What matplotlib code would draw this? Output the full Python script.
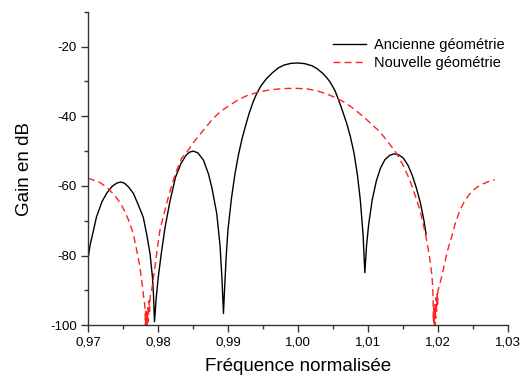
import matplotlib
matplotlib.use("Agg")
import matplotlib.pyplot as plt
from matplotlib.ticker import MultipleLocator, FuncFormatter

plt.rcParams["font.family"] = ["Liberation Sans", "DejaVu Sans"]

# Ancienne géométrie
f_old = [0.9700, 0.9703, 0.9707, 0.9712, 0.9720, 0.9727, 0.9735, 0.9742, 0.9747,
         0.9752, 0.9758, 0.9765, 0.9772, 0.9779, 0.9784, 0.97886, 0.9792, 0.97935,
         0.9795, 0.97975, 0.98005, 0.9805, 0.9810, 0.9817, 0.9825, 0.9833, 0.9840,
         0.9845, 0.98505, 0.9857, 0.9865, 0.9872, 0.9877, 0.9884, 0.98886, 0.98915,
         0.98935, 0.98955, 0.98975, 0.9900, 0.9905, 0.9910, 0.9915, 0.9920, 0.9925,
         0.9930, 0.9936, 0.9941, 0.9947, 0.9955, 0.9963, 0.9972, 0.9980, 0.9990,
         1.0000, 1.0010, 1.0020, 1.0027, 1.0035, 1.0041, 1.0046, 1.0053, 1.0060,
         1.0065, 1.0070, 1.0075, 1.0080, 1.0085, 1.0089, 1.0093, 1.00955, 1.0098,
         1.0101, 1.0106, 1.0112, 1.0118, 1.0124, 1.0131, 1.0137, 1.0143, 1.0150,
         1.0157, 1.0163, 1.0169, 1.0175, 1.0180, 1.0183]
g_old = [-81.0, -77.0, -73.5, -69.0, -64.5, -62.0, -60.0, -59.1, -58.9,
         -59.2, -60.3, -62.2, -65.5, -69.0, -74.0, -79.4, -86.0, -91.0,
         -99.0, -92.0, -86.0, -79.0, -72.0, -64.5, -57.5, -53.5, -51.2,
         -50.3, -50.0, -50.5, -52.6, -56.5, -60.5, -68.0, -77.0, -87.0,
         -96.6, -88.0, -80.0, -72.5, -63.5, -56.5, -51.0, -46.5, -42.8,
         -39.3, -35.8, -33.5, -31.3, -29.2, -27.6, -26.1, -25.3, -24.8,
         -24.7, -24.9, -25.5, -26.3, -27.6, -28.9, -30.2, -32.7, -36.4,
         -39.3, -42.3, -46.0, -50.5, -57.0, -64.0, -74.0, -84.9, -77.0,
         -71.0, -64.0, -58.5, -54.8, -52.5, -51.2, -50.8, -51.0, -51.9,
         -54.0, -56.8, -60.5, -65.0, -70.0, -73.8]

# Nouvelle géométrie
f_new = [0.9700, 0.9710, 0.9717, 0.9724, 0.9731, 0.9738, 0.9746, 0.9753, 0.9760,
         0.9765, 0.97695, 0.9774, 0.97767, 0.9779, 0.97814, 0.9782, 0.97826,
         0.97832, 0.9784, 0.97848, 0.97855, 0.97862, 0.9787, 0.9788, 0.9789,
         0.9791, 0.97957, 0.9800, 0.98029, 0.9808, 0.98124, 0.9820, 0.98267,
         0.9834, 0.98433, 0.9852, 0.98648, 0.9878, 0.9890, 0.99029, 0.9915,
         0.9928, 0.9941, 0.9955, 0.9970, 0.9985, 1.0000, 1.0015, 1.00271,
         1.0040, 1.00529, 1.00648, 1.0076, 1.00886, 1.0100, 1.01171, 1.0128,
         1.0141, 1.0150, 1.0160, 1.0167, 1.01743, 1.0179, 1.01838, 1.0188,
         1.0191, 1.01925, 1.0193, 1.01935, 1.0194, 1.01945, 1.0195, 1.01955,
         1.0196, 1.01967, 1.01975, 1.0198, 1.01988, 1.01995, 1.0200, 1.02029,
         1.02076, 1.0213, 1.02195, 1.0225, 1.02314, 1.0238, 1.02457, 1.0253,
         1.0260, 1.0270, 1.0281]
g_new = [-57.8, -58.5, -59.0, -60.0, -61.2, -62.7, -64.8, -67.5, -70.8,
         -74.0, -78.4, -83.0, -87.0, -91.0, -94.7, -100.0, -96.0,
         -100.0, -97.0, -100.0, -95.0, -99.0, -93.0, -96.0, -91.0,
         -89.9, -83.2, -76.5, -72.5, -68.5, -65.0, -59.5, -55.5,
         -52.0, -49.7, -47.2, -44.0, -40.8, -38.5, -36.8, -35.2,
         -34.0, -33.2, -32.6, -32.2, -32.0, -32.0, -32.2, -32.7,
         -33.5, -34.6, -35.8, -37.3, -39.3, -41.3, -44.5, -47.2,
         -50.7, -54.0, -58.4, -62.5, -67.0, -71.0, -75.6, -80.5,
         -85.1, -89.0, -93.0, -99.0, -95.0, -100.0, -96.0, -100.0,
         -94.0, -98.0, -92.0, -96.0, -91.0, -94.0, -90.0, -88.0,
         -84.0, -79.0, -74.6, -70.5, -67.0, -64.3, -62.2, -60.8,
         -59.8, -58.9, -58.2]

fig = plt.figure(figsize=(5.25, 3.8), dpi=100)
ax = fig.add_axes([0.1676, 0.144, 0.80, 0.825])

ax.plot(f_old, g_old, color="black", linewidth=1.0, label="Ancienne géométrie")
ax.plot(f_new, g_new, color="#ff2020", linewidth=1.0, dashes=(5, 3),
        label="Nouvelle géométrie")

ax.set_xlim(0.97, 1.03)
ax.set_ylim(-100, -10)
ax.xaxis.set_major_locator(MultipleLocator(0.01))
ax.xaxis.set_minor_locator(MultipleLocator(0.005))
ax.yaxis.set_major_locator(MultipleLocator(20))
ax.yaxis.set_minor_locator(MultipleLocator(10))
ax.xaxis.set_major_formatter(FuncFormatter(lambda v, p: f"{v:.2f}".replace(".", ",")))
ax.yaxis.set_major_formatter(FuncFormatter(lambda v, p: f"{v:.0f}"))

for s in ["top", "right"]:
    ax.spines[s].set_visible(False)
for s in ["left", "bottom"]:
    ax.spines[s].set_linewidth(1.0)
    ax.spines[s].set_color("#333333")

ax.tick_params(which="major", direction="out", length=5, width=1.0, pad=3,
               labelsize=9.5, colors="#333333", labelcolor="black")
ax.tick_params(which="minor", direction="out", length=3, width=1.0,
               colors="#333333")

ax.set_xlabel("Fréquence normalisée", fontsize=13.5, labelpad=7)
ax.set_ylabel("Gain en dB", fontsize=13.5, labelpad=12)

ax.legend(loc="upper right", bbox_to_anchor=(1.012, 0.945), frameon=False,
          fontsize=10.5, handlelength=2.3, handletextpad=0.5,
          labelspacing=0.3, borderaxespad=0.2)

fig.savefig("out.png", dpi=100)
